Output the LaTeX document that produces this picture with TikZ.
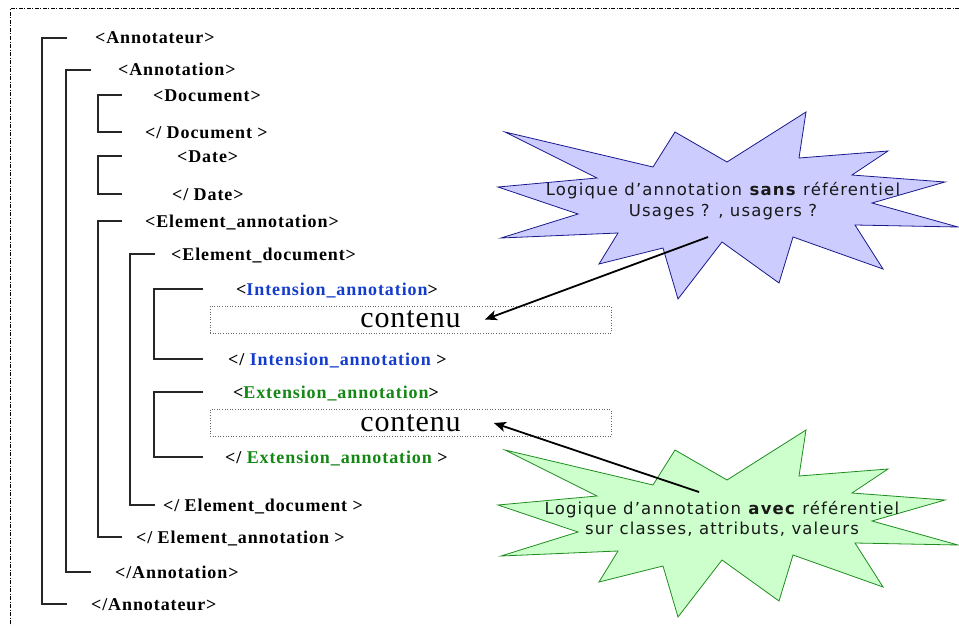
\documentclass[tikz,border=0pt]{standalone}
\usepackage{fontspec}
\setmainfont{Liberation Serif}
\newfontfamily\tagfont{Liberation Serif}[LetterSpace=5]
\newfontfamily\contfont{Liberation Serif}[LetterSpace=3]
\newfontfamily\burstfont{DejaVu Sans}[LetterSpace=7]
\usetikzlibrary{arrows.meta,calc}
\definecolor{intblue}{RGB}{20,60,205}
\definecolor{extgreen}{RGB}{20,135,20}
\definecolor{burstblue}{RGB}{204,204,255}
\definecolor{burstnavy}{RGB}{25,25,140}
\definecolor{burstgreen}{RGB}{204,255,204}
\definecolor{burstdark}{RGB}{30,140,30}
\def\burst{(505,132) -- (653,167) -- (675,132) -- (727,162) -- (806,112) -- (799,158) -- (888,151) -- (852,175) -- (945,182) -- (872,203) -- (958,227) -- (855,225) -- (883,269) -- (793,237) -- (779,283) -- (722,242) -- (678,299) -- (663,248) -- (599,264) -- (618,233) -- (501,238) -- (578,214) -- (498,187) -- (597,178) -- cycle}
\tikzset{
	frame/.style={line width=1pt, dash pattern=on 4pt off 1.5pt on 1pt off 1.5pt},
	tag/.style={anchor=west, inner sep=0pt, text height=12pt, text depth=0pt, font=\tagfont\bfseries\fontsize{18}{20}\selectfont},
	brk/.style={line width=1.4pt, color=black!85},
	contenubox/.style={draw=black!60, dotted, line width=0.6pt, minimum width=401pt, minimum height=27pt, inner sep=0pt},
	contenutxt/.style={inner sep=0pt, font=\contfont\fontsize{30}{32}\selectfont},
	note/.style={align=center, inner sep=0pt, text=black!90, font=\burstfont\fontsize{16.5}{20.5}\selectfont},
	callarrow/.style={-{Stealth[length=12pt,width=10pt,inset=3pt]}, line width=1.8pt}
}
\begin{document}
\begin{tikzpicture}[x=1pt, y=-1pt]
		%%%%% START %%%%%
		\useasboundingbox (0,0) rectangle (959,626);
		\draw[frame] (959,9) -- (10,9) -- (10,626);
		
		% tags
		\node[tag] (annotateur) at (95,38) {<Annotateur>};
		\node[tag] (annotation) at (118,70) {<Annotation>};
		\node[tag] (document) at (153,95) {<Document>};
		\node[tag] (documentEnd) at (145,132) {</ Document >};
		\node[tag] (date) at (177,156) {<Date>};
		\node[tag] (dateEnd) at (172,194) {</ Date>};
		\node[tag] (elemAnnot) at (145,221) {<Element\_annotation>};
		\node[tag] (elemDoc) at (171,254) {<Element\_document>};
		\node[tag] (intension) at (236,289) {<\textcolor{intblue}{Intension\_annotation}>};
		\node[tag] (intensionEnd) at (228,359) {</ \textcolor{intblue}{Intension\_annotation} >};
		\node[tag] (extension) at (233,392) {<\textcolor{extgreen}{Extension\_annotation}>};
		\node[tag] (extensionEnd) at (225,457) {</ \textcolor{extgreen}{Extension\_annotation} >};
		\node[tag] (elemDocEnd) at (163,505) {</ Element\_document >};
		\node[tag] (elemAnnotEnd) at (136,537) {</ Element\_annotation >};
		\node[tag] (annotationEnd) at (115,572) {</Annotation>};
		\node[tag] (annotateurEnd) at (91,604) {</Annotateur>};
		
		% brackets
		\draw[brk] (67,0 |- annotateur) -| (42,0 |- annotateurEnd) -- (67,0 |- annotateurEnd);
		\draw[brk] (91,0 |- annotation) -| (66,0 |- annotationEnd) -- (91,0 |- annotationEnd);
		\draw[brk] (122,0 |- document) -| (98,0 |- documentEnd) -- (122,0 |- documentEnd);
		\draw[brk] (122,0 |- date) -| (98,0 |- dateEnd) -- (122,0 |- dateEnd);
		\draw[brk] (122,0 |- elemAnnot) -| (98,0 |- elemAnnotEnd) -- (122,0 |- elemAnnotEnd);
		\draw[brk] (155,0 |- elemDoc) -| (130,0 |- elemDocEnd) -- (155,0 |- elemDocEnd);
		\draw[brk] (203,0 |- intension) -| (154,0 |- intensionEnd) -- (203,0 |- intensionEnd);
		\draw[brk] (203,0 |- extension) -| (154,0 |- extensionEnd) -- (203,0 |- extensionEnd);
		
		% contenu
		\node[contenubox] (box1) at (410.5,319.5) {};
		\node[contenutxt] (cont1) at (box1.center) {contenu};
		\node[contenubox] (box2) at (410.5,423) {};
		\node[contenutxt] (cont2) at (box2.center) {contenu};
		
		% bursts
		\draw[draw=burstnavy, fill=burstblue, line width=0.8pt] \burst;
		\draw[draw=burstdark, fill=burstgreen, line width=0.8pt, shift={(0,318)}] \burst;
		\node[note] (sans) at (723,201) {Logique d’annotation \textbf{sans} référentiel\\Usages ? , usagers ?};
		\node[note] (avec) at (722,519) {Logique d’annotation \textbf{avec} référentiel\\sur classes, attributs, valeurs};
		
		\coordinate (tail1) at (708,237);
		\coordinate (tail2) at (699,492);
		\draw[callarrow] (tail1) -- ([xshift=24pt]cont1.east);
		\draw[callarrow] (tail2) -- ([xshift=33pt]cont2.east);
		%%%%% END %%%%%
\end{tikzpicture}
\end{document}
